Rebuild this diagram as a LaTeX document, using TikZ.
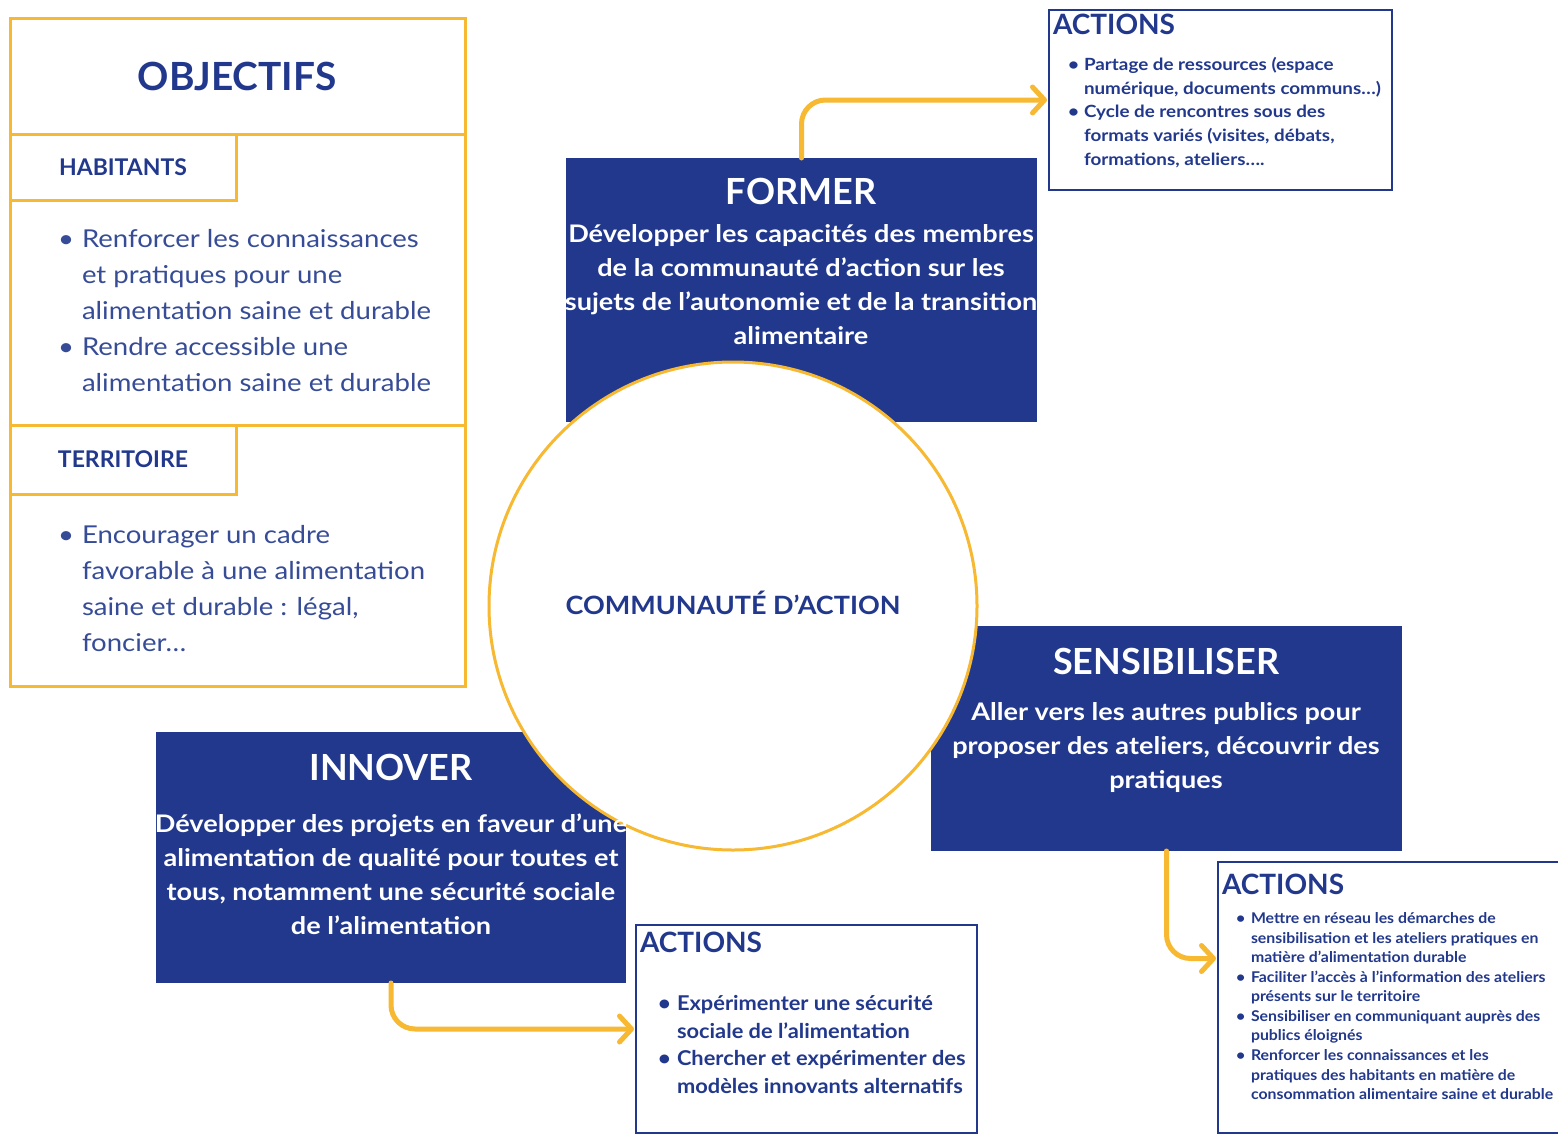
\documentclass[tikz,border=0pt]{standalone}
\usepackage{fontspec}
\setmainfont{Lato}
\newfontfamily\latoW[FakeStretch=1.12]{Lato}
\newfontfamily\latoM[FakeStretch=1.07]{Lato}
\usetikzlibrary{arrows.meta}
\definecolor{navy}{RGB}{33,56,140}
\definecolor{gold}{RGB}{247,184,50}
\newcommand\mytextL[5]{\node[#4,anchor=base west] (#1) at (#2,#3) {#5};}
\newcommand\mytextC[5]{\node[#4,anchor=base] (#1) at (#2,#3) {#5};}
\tikzset{
  x=0.5pt, y=-0.5pt,
  every node/.style={inner sep=0pt, outer sep=0pt},
  frameline/.style={draw=gold, line width=1.5pt},
  bluebox/.style={fill=navy, draw=none, rectangle},
  actbox/.style={draw=navy, fill=white, line width=1.25pt, rectangle},
  arr/.style={draw=gold, line width=2.5pt, rounded corners=12pt, line cap=round,
    -{Straight Barb[length=6pt, width=13pt, line cap=round, line join=round]}},
  objtitle/.style={text=navy, font=\fontsize{19.4}{24}\selectfont\bfseries},
  subhead/.style={text=navy, font=\fontsize{11.5}{14}\selectfont\bfseries},
  objitem/.style={text=navy!90!white, font=\latoW\fontsize{12.3}{15}\selectfont},
  bigtitle/.style={text=white, font=\fontsize{18}{22}\selectfont\bfseries},
  boxbody/.style={text=white, font=\latoW\fontsize{12.1}{15}\selectfont\bfseries},
  centertxt/.style={text=navy, font=\latoM\fontsize{12.6}{15}\selectfont\bfseries},
  acthead/.style={text=navy, font=\fontsize{14}{17}\selectfont\bfseries},
  aone/.style={text=navy, font=\latoW\fontsize{8.4}{10}\selectfont\bfseries},
  atwo/.style={text=navy, font=\latoM\fontsize{10.2}{12}\selectfont\bfseries},
  athree/.style={text=navy, font=\latoM\fontsize{7.4}{9}\selectfont\bfseries},
}
\begin{document}
\begin{tikzpicture}
\useasboundingbox[fill=white] (0,0) rectangle (1558,1135);

% ---------- OBJECTIFS table ----------
\draw[frameline] (10,18) rectangle (465,686);
\draw[frameline] (10,134) -- (465,134);
\draw[frameline] (236,134) -- (236,200) -- (10,200);
\draw[frameline] (10,425) -- (465,425);
\draw[frameline] (236,425) -- (236,494) -- (10,494);

\mytextC{objT}{237}{90}{objtitle}{OBJECTIFS}
\mytextC{habT}{123}{175}{subhead}{HABITANTS}
\mytextL{hb1}{58}{247}{objitem}{•}
\mytextL{h1}{82}{247}{objitem}{Renforcer les connaissances}
\mytextL{h2}{82}{283}{objitem}{et pratiques pour une}
\mytextL{h3}{82}{319}{objitem}{alimentation saine et durable}
\mytextL{hb2}{58}{355}{objitem}{•}
\mytextL{h4}{82}{355}{objitem}{Rendre accessible une}
\mytextL{h5}{82}{391}{objitem}{alimentation saine et durable}
\mytextC{terT}{123}{467}{subhead}{TERRITOIRE}
\mytextL{tb1}{58}{543}{objitem}{•}
\mytextL{t1}{82}{543}{objitem}{Encourager un cadre}
\mytextL{t2}{82}{579}{objitem}{favorable à une alimentation}
\mytextL{t3}{82}{615}{objitem}{saine et durable : légal,}
\mytextL{t4}{82}{651}{objitem}{foncier…}

% ---------- blue boxes ----------
\node[bluebox, minimum width=235.5pt, minimum height=132pt] (former) at (801.5,290) {};
\node[bluebox, minimum width=235pt, minimum height=125.5pt] (innover) at (391,857.5) {};
\node[bluebox, minimum width=235.5pt, minimum height=112.5pt] (sens) at (1166.5,738.5) {};

% ---------- action boxes ----------
\node[actbox, minimum width=171.5pt, minimum height=90pt] (act1) at (1220.5,100) {};
\node[actbox, minimum width=170.5pt, minimum height=104pt] (act2) at (806.5,1029) {};
\node[actbox, minimum width=172pt, minimum height=135.5pt] (act3) at (1390,997.5) {};
\coordinate (a3in) at ([yshift=19.5pt]act3.west);

% ---------- arrows ----------
\draw[arr] (former.north) |- ([xshift=-1pt]act1.west);
\draw[arr] (innover.south) |- ([xshift=-1pt]act2.west);
\draw[arr] (sens.south) |- ([xshift=-1pt]a3in);

% ---------- central circle ----------
\node[circle, draw=gold, fill=white, line width=1.5pt, minimum size=244pt] (comm) at (733,606) {};
\mytextC{commT}{733}{614}{centertxt}{COMMUNAUTÉ D’ACTION}

% ---------- FORMER text ----------
\mytextC{fT}{801}{204}{bigtitle}{FORMER}
\mytextC{f1}{801}{242}{boxbody}{Développer les capacités des membres}
\mytextC{f2}{801}{276}{boxbody}{de la communauté d’action sur les}
\mytextC{f3}{801}{310}{boxbody}{sujets de l’autonomie et de la transition}
\mytextC{f4}{801}{344}{boxbody}{alimentaire}

% ---------- INNOVER text ----------
\mytextC{iT}{391}{780}{bigtitle}{INNOVER}
\mytextC{i1}{391}{832}{boxbody}{Développer des projets en faveur d’une}
\mytextC{i2}{391}{866}{boxbody}{alimentation de qualité pour toutes et}
\mytextC{i3}{391}{900}{boxbody}{tous, notamment une sécurité sociale}
\mytextC{i4}{391}{934}{boxbody}{de l’alimentation}

% ---------- SENSIBILISER text ----------
\mytextC{sT}{1166}{674}{bigtitle}{SENSIBILISER}
\mytextC{s1}{1166}{720}{boxbody}{Aller vers les autres publics pour}
\mytextC{s2}{1166}{754}{boxbody}{proposer des ateliers, découvrir des}
\mytextC{s3}{1166}{788}{boxbody}{pratiques}

% ---------- ACTIONS 1 ----------
\mytextL{a1T}{1053}{34}{acthead}{ACTIONS}
\mytextL{a1b1}{1068}{70}{aone}{•}
\mytextL{a1l1}{1084}{70}{aone}{Partage de ressources (espace}
\mytextL{a1l2}{1084}{94}{aone}{numérique, documents communs…)}
\mytextL{a1b2}{1068}{117}{aone}{•}
\mytextL{a1l3}{1084}{117}{aone}{Cycle de rencontres sous des}
\mytextL{a1l4}{1084}{141}{aone}{formats variés (visites, débats,}
\mytextL{a1l5}{1084}{165}{aone}{formations, ateliers….}

% ---------- ACTIONS 2 ----------
\mytextL{a2T}{640}{952}{acthead}{ACTIONS}
\mytextL{a2b1}{658}{1010}{atwo}{•}
\mytextL{a2l1}{677}{1010}{atwo}{Expérimenter une sécurité}
\mytextL{a2l2}{677}{1038}{atwo}{sociale de l’alimentation}
\mytextL{a2b2}{658}{1065}{atwo}{•}
\mytextL{a2l3}{677}{1065}{atwo}{Chercher et expérimenter des}
\mytextL{a2l4}{677}{1093}{atwo}{modèles innovants alternatifs}

% ---------- ACTIONS 3 ----------
\mytextL{a3T}{1222}{894}{acthead}{ACTIONS}
\mytextL{a3b1}{1236}{923}{athree}{•}
\mytextL{a3l1}{1251}{923}{athree}{Mettre en réseau les démarches de}
\mytextL{a3l2}{1251}{943}{athree}{sensibilisation et les ateliers pratiques en}
\mytextL{a3l3}{1251}{962}{athree}{matière d’alimentation durable}
\mytextL{a3b2}{1236}{982}{athree}{•}
\mytextL{a3l4}{1251}{982}{athree}{Faciliter l’accès à l’information des ateliers}
\mytextL{a3l5}{1251}{1001}{athree}{présents sur le territoire}
\mytextL{a3b3}{1236}{1021}{athree}{•}
\mytextL{a3l6}{1251}{1021}{athree}{Sensibiliser en communiquant auprès des}
\mytextL{a3l7}{1251}{1040}{athree}{publics éloignés}
\mytextL{a3b4}{1236}{1060}{athree}{•}
\mytextL{a3l8}{1251}{1060}{athree}{Renforcer les connaissances et les}
\mytextL{a3l9}{1251}{1080}{athree}{pratiques des habitants en matière de}
\mytextL{a3l10}{1251}{1099}{athree}{consommation alimentaire saine et durable}
\end{tikzpicture}
\end{document}
